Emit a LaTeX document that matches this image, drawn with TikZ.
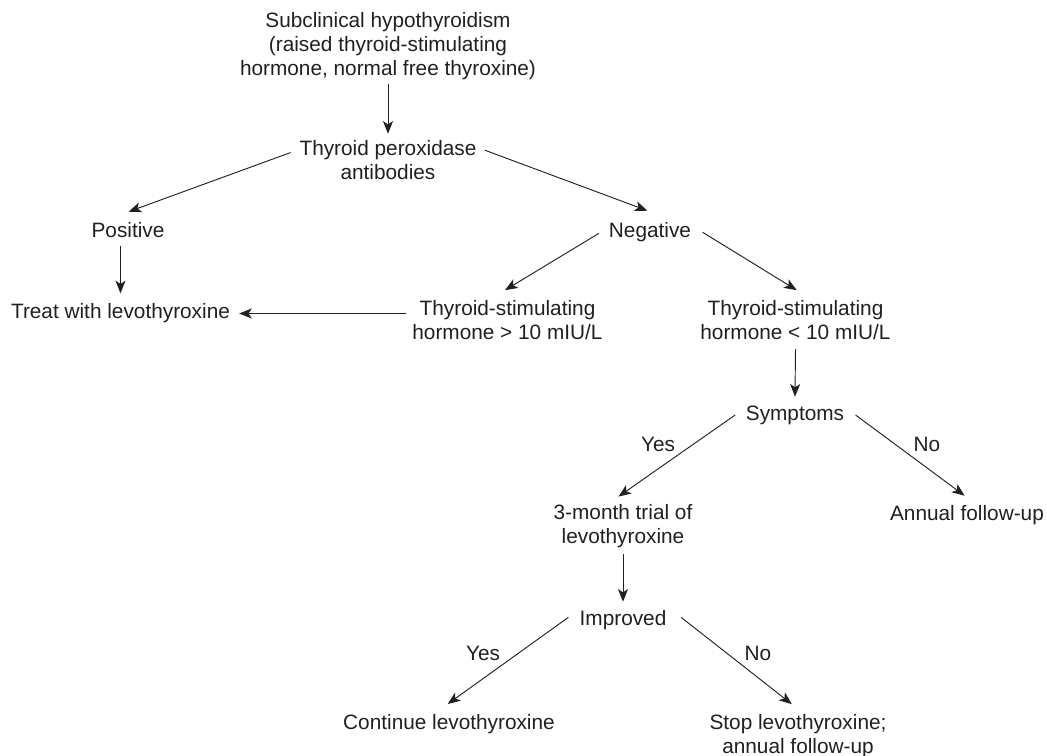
\documentclass[tikz,border=0pt]{standalone}
\usepackage{fontspec}
\setmainfont{Liberation Sans}
\usetikzlibrary{arrows.meta,calc}
\definecolor{ink}{RGB}{35,31,32}
\tikzset{
  lbl/.style={inner sep=0pt, outer sep=0pt, align=center, text=ink,
    font=\fontsize{15.6}{18}\selectfont,
    execute at begin node=\strut, execute at end node=\strut},
  arr/.style={draw=ink, line width=0.7pt,
    -{Stealth[length=9.5pt, width=7.5pt, inset=2.5pt]}}
}
\begin{document}
\begin{tikzpicture}[x=0.75pt,y=-0.75pt]
\useasboundingbox (0,0) rectangle (1047,756);
% nodes
\node[lbl] (top) at (388,47.7) {Subclinical hypothyroidism\\(raised thyroid-stimulating\\hormone, normal free thyroxine)};
\node[lbl] (tpo) at (388,163.9) {Thyroid peroxidase\\antibodies};
\node[lbl,anchor=base] (pos) at (128,237.3) {Positive};
\node[lbl,anchor=base] (neg) at (650,237.8) {Negative};
\node[lbl,anchor=base] (treat) at (120.5,318.3) {Treat with levothyroxine};
\node[lbl] (tshi) at (507.5,323.9) {Thyroid-stimulating\\hormone > 10 mIU/L};
\node[lbl] (tslo) at (795.5,323.9) {Thyroid-stimulating\\hormone < 10 mIU/L};
\node[lbl,anchor=base] (sym) at (795,420.7) {Symptoms};
\node[lbl] (trial) at (623,527.9) {3-month trial of\\levothyroxine};
\node[lbl,anchor=base] (annual) at (967,520.7) {Annual follow-up};
\node[lbl,anchor=base] (impr) at (623,625) {Improved};
\node[lbl,anchor=base] (cont) at (449,729.3) {Continue levothyroxine};
\node[lbl] (stop) at (798,737.2) {Stop levothyroxine;\\annual follow-up};
\node[lbl,anchor=base] (yes1) at (658,451.7) {Yes};
\node[lbl,anchor=base] (no1) at (927,451.7) {No};
\node[lbl,anchor=base] (yes2) at (483,660) {Yes};
\node[lbl,anchor=base] (no2) at (758,660) {No};
% connectors
\draw[arr] ($(top.south)+(0,1.3)$) -- ($(tpo.north)+(0,-7)$);
\draw[arr] ($(tpo.north west)+(-9,11.8)$) -- ($(pos.north)+(0.6,-8.8)$);
\draw[arr] ($(tpo.north east)+(8.3,9.4)$) -- ($(neg.north)+(-2.6,-10.3)$);
\draw[arr] ($(pos.south -| treat.north)+(0,1.5)$) -- ($(treat.north)+(0,-8.2)$);
\draw[arr] ($(tshi.west |- treat.east)+(-6,0)$) -- ($(treat.east)+(9.2,0)$);
\draw[arr] ($(neg.west)+(-10,0.3)$) -- ($(tshi.north)+(-2.5,-10.6)$);
\draw[arr] ($(neg.east)+(11.6,-0.7)$) -- ($(tslo.north)+(1.2,-10.6)$);
\draw[arr] ($(tslo.south)+(0,2.1)$) -- ($(sym.north)+(0,-7.2)$);
\draw[arr] ($(sym.west)+(-10.7,-0.9)$) -- ($(trial.north)+(-4.5,-8.2)$);
\draw[arr] ($(sym.east)+(11.4,-0.9)$) -- ($(annual.north)+(-2.4,-8.2)$);
\draw[arr] ($(trial.south)+(0,3.1)$) -- ($(impr.north)+(0,-6.5)$);
\draw[arr] ($(impr.west)+(-11.2,-2.9)$) -- ($(cont.north)+(-1.3,-8.5)$);
\draw[arr] ($(impr.east)+(14.7,-2.9)$) -- ($(stop.north)+(-6.2,-9.9)$);
\end{tikzpicture}
\end{document}
